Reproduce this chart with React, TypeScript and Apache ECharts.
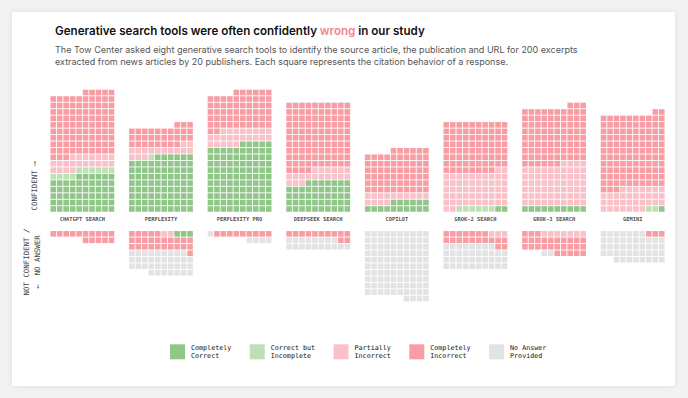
import React, { useEffect, useRef } from 'react';
import * as echarts from 'echarts';

const tools = ['CHATGPT SEARCH', 'PERPLEXITY', 'PERPLEXITY PRO', 'DEEPSEEK SEARCH', 'COPILOT', 'GROK-2 SEARCH', 'GROK-3 SEARCH', 'GEMINI'];
const categories = ['Completely Correct', 'Correct but Incomplete', 'Partially Incorrect', 'Completely Incorrect', 'No Answer Provided'];
const legendLabels = ['Completely\nCorrect', 'Correct but\nIncomplete', 'Partially\nIncorrect', 'Completely\nIncorrect', 'No Answer\nProvided'];
const colors = ['#74b96b', '#acd9a3', '#f9b1bb', '#f7848f', '#dcdcdc'];

// confident responses per tool
const confCorrect = [56, 86, 105, 47, 16, 2, 10, 1];
const confIncomplete = [10, 1, 0, 0, 0, 6, 0, 2];
const confPartial = [21, 15, 23, 19, 14, 54, 64, 34];
const confIncorrect = [98, 31, 58, 104, 66, 78, 89, 115];
// not confident / no answer responses per tool
const ncCorrect = [0, 3, 0, 0, 0, 0, 0, 0];
const ncIncomplete = [0, 0, 0, 0, 0, 0, 0, 0];
const ncPartial = [0, 2, 0, 0, 0, 3, 7, 0];
const ncIncorrect = [15, 26, 9, 12, 0, 19, 28, 3];
const ncNoAnswer = [0, 36, 5, 18, 104, 38, 2, 45];

const COLS = 10;
const STEP = 12.15;
const GAP = 2.84;

export default function App() {
  const ref = useRef<HTMLDivElement>(null);
  useEffect(() => {
    document.body.style.margin = '0';
    if (!ref.current) return;
    const chart = echarts.init(ref.current, undefined, { renderer: 'svg' });
    const data: number[][][] = categories.map(() => []);
    const conf = [confCorrect, confIncomplete, confPartial, confIncorrect];
    const nc = [ncCorrect, ncIncomplete, ncPartial, ncIncorrect, ncNoAnswer];
    tools.forEach((_, t) => {
      let idx = 0;
      conf.forEach((arr, k) => {
        for (let j = 0; j < arr[t]; j++) {
          const row = Math.floor(idx / COLS);
          const col = COLS - 1 - (idx % COLS);
          data[k].push([t * STEP + col, row + 0.5]);
          idx++;
        }
      });
      idx = 0;
      nc.forEach((arr, k) => {
        for (let j = 0; j < arr[t]; j++) {
          const row = Math.floor(idx / COLS);
          const col = COLS - 1 - (idx % COLS);
          data[k].push([t * STEP + col, -(GAP + row + 0.5)]);
          idx++;
        }
      });
    });
    const mono = 'DejaVu Sans Mono';
    const series: any[] = categories.map((name, k) => ({
      type: 'scatter',
      name,
      symbol: 'rect',
      symbolSize: 5.6,
      itemStyle: { color: colors[k] },
      data: data[k],
      silent: true,
    }));
    series.push({
      type: 'scatter',
      name: 'labels',
      symbolSize: 0,
      silent: true,
      data: tools.map((n, i) => ({ name: n, value: [i * STEP + 4.5, -1.11] })),
      label: {
        show: true,
        position: 'inside',
        formatter: '{b}',
        fontFamily: mono,
        fontSize: 5.4,
        fontWeight: 'bold',
        color: '#222',
      },
    });
    chart.setOption({
      animation: false,
      backgroundColor: '#f3f3f3',
      grid: { left: 50, top: 89.3, width: 615, height: 213.5 },
      xAxis: { type: 'value', min: -0.5, max: 7 * STEP + 9.5, show: false },
      yAxis: { type: 'value', min: -14, max: 19, show: false },
      legend: {
        data: categories,
        selectedMode: false,
        left: 165,
        top: 339,
        icon: 'rect',
        itemWidth: 15,
        itemHeight: 15,
        itemGap: 18.5,
        formatter: (name: string) => legendLabels[categories.indexOf(name)],
        textStyle: { fontFamily: mono, fontSize: 6.7, lineHeight: 7.8, color: '#111', padding: [0, 0, 0, 1] },
      },
      graphic: [
        {
          type: 'rect',
          z: -10,
          shape: { x: 12, y: 12, width: 663, height: 374, r: 2 },
          style: { fill: '#ffffff', shadowBlur: 6, shadowColor: 'rgba(0,0,0,0.10)' },
        },
        {
          type: 'text',
          x: 55,
          y: 31,
          style: {
            text: 'Generative search tools were often confidently {w|wrong} in our study',
            fill: '#111',
            fontFamily: 'Inter',
            fontWeight: 600,
            fontSize: 11.6,
            verticalAlign: 'middle',
            rich: { w: { fill: '#f08691', fontFamily: 'Inter', fontWeight: 600, fontSize: 11.6 } },
          },
        },
        {
          type: 'text',
          x: 55,
          y: 43.5,
          style: {
            text: 'The Tow Center asked eight generative search tools to identify the source article, the publication and URL for 200 excerpts\nextracted from news articles by 20 publishers. Each square represents the citation behavior of a response.',
            fill: '#555',
            fontFamily: 'Inter',
            fontSize: 9,
            lineHeight: 12,
            verticalAlign: 'top',
          },
        },
        {
          type: 'text',
          x: 34,
          y: 186,
          rotation: Math.PI / 2,
          style: {
            text: 'CONFIDENT ⟶',
            fill: '#444',
            fontFamily: mono,
            fontSize: 7.4,
            align: 'center',
            verticalAlign: 'middle',
          },
        },
        {
          type: 'text',
          x: 32,
          y: 262,
          rotation: Math.PI / 2,
          style: {
            text: 'NOT CONFIDENT /\n←  NO ANSWER',
            fill: '#444',
            fontFamily: mono,
            fontSize: 7.4,
            lineHeight: 10.5,
            align: 'center',
            verticalAlign: 'middle',
          },
        },
      ],
      series,
    });
    return () => chart.dispose();
  }, []);
  return <div ref={ref} style={{ width: 688, height: 398 }} />;
}
